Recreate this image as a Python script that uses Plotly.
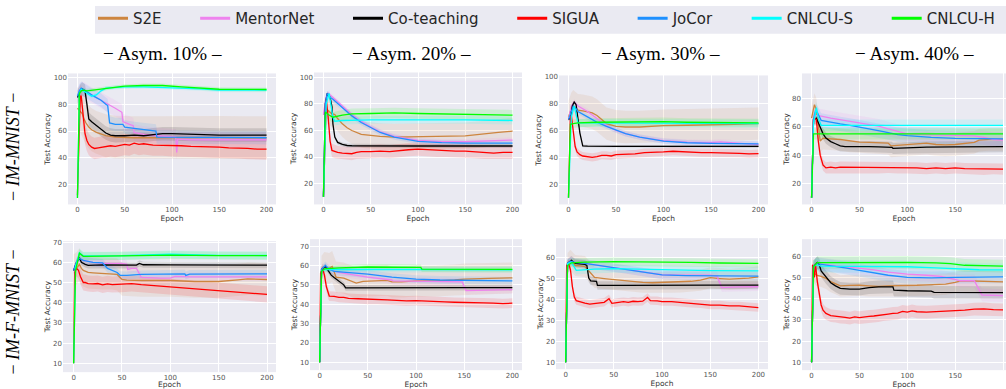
import plotly.graph_objects as go

W, H = 1006, 389

METHODS = ["S2E", "MentorNet", "Co-teaching", "SIGUA", "JoCor", "CNLCU-S", "CNLCU-H"]
COLORS = ["#CD853F", "#EE82EE", "#000000", "#FF0000", "#1E90FF", "#00FFFF", "#00FF00"]
COL_LABELS = ["Asym. 10%", "Asym. 20%", "Asym. 30%", "Asym. 40%"]
ROW_LABELS = ["IM-MNIST", "IM-F-MNIST"]
X_TICKS = [0, 50, 100, 150, 200]

# ---------------- IM-MNIST, Asym. 10% ----------------
m10_s2e = [(0,77),(3,75),(5,73),(7,69),(9,66),(12,63),(15,61),(20,59),(25,57.5),(30,56.5),(40,55.5),(50,55),(60,55),(80,55),(100,55.2),(120,55),(150,55.2),(180,55),(200,55)]
m10_mentornet = [(0,86),(3,90),(5,91),(8,90),(12,88),(20,85),(30,81),(40,77),(47,74),(48,67),(55,65),(59,64),(60,59),(70,57.5),(85,56.5),(100,56),(104,55.5),(105,44),(106,54),(120,53.5),(150,53.5),(200,53.5)]
m10_coteaching = [(0,85),(3,90),(5,91.5),(8,90),(10,80),(12,69),(15,67),(20,64),(25,61),(30,58.5),(35,57),(40,56.5),(50,56.5),(60,57),(70,56.5),(80,57.5),(90,58),(100,58),(120,57.5),(150,57),(200,57)]
m10_sigua = [(0,12),(2,70),(3,86),(4,86),(6,70),(8,58),(10,53),(12,50),(15,48),(18,47),(22,47.5),(26,48),(30,48),(35,49),(40,48.5),(45,49.5),(50,50),(55,49.5),(60,51),(65,50),(70,50.5),(80,49.5),(90,49.5),(100,49),(110,49),(120,48.5),(130,48.5),(140,48),(150,48),(160,47.5),(170,47.5),(180,47),(190,46.5),(200,46.5)]
m10_jocor = [(0,86),(2,90),(4,92),(6,91),(10,89),(15,87),(20,85),(25,83),(30,80),(32,79),(34,66),(40,65),(48,65),(50,63),(60,62),(70,61),(80,60.5),(83,60),(84,55.5),(90,55.5),(100,55.5),(120,55),(150,55),(200,55)]
m10_cnlcu_s = [(0,10),(2,88),(4,91),(6,90),(10,88),(15,86),(20,87),(25,90),(30,92),(40,92.5),(50,93),(70,93),(100,92.5),(130,91.5),(150,90.5),(200,90.5)]
m10_cnlcu_h = [(0,10),(2,88),(4,90),(6,90.5),(10,90),(20,91),(30,92),(40,93),(50,93.5),(70,94),(90,94),(110,93),(130,92),(150,91.2),(200,91)]
m10_spread = [16, 6, 5, 8, 5, 1.5, 1.5]

# ---------------- IM-MNIST, Asym. 20% ----------------
m20_s2e = [(0,72),(3,74),(5,75),(8,73),(12,72),(15,69),(20,65),(25,62),(30,60),(40,57),(50,56),(60,55.5),(75,55),(100,55.5),(125,55.5),(150,56),(165,57),(175,58),(185,58.5),(200,59.5)]
m20_mentornet = [(0,72),(3,86),(5,88),(8,86),(10,85),(20,78),(30,72),(40,67),(50,62.5),(60,59),(75,55.5),(100,52.5),(125,51.5),(150,51.5),(170,52),(185,52.5),(200,52.8)]
m20_coteaching = [(0,10),(2,80),(4,88),(7,85),(9,78),(10,65),(12,55),(15,51),(20,49.5),(25,48.7),(30,48.5),(50,48.3),(100,48.3),(200,48.3)]
m20_sigua = [(0,10),(2,72),(3,83),(5,70),(7,52),(9,45),(12,44),(15,43.5),(20,43),(25,43),(30,42.5),(35,43.5),(40,44),(50,44),(60,44.5),(70,44),(80,45),(90,45.5),(100,46),(110,45.5),(120,45),(130,45),(140,44.5),(150,44.5),(160,44),(170,43.5),(180,43),(190,43.5),(200,43.5)]
m20_jocor = [(0,10),(2,80),(4,88),(7,85),(10,83.5),(20,77),(30,71),(40,66),(50,62),(60,58.5),(75,55),(100,51.8),(125,50.8),(150,50.5),(200,50.5)]
m20_cnlcu_s = [(0,10),(3,80),(6,88),(8,80),(10,70),(12,67),(20,67.5),(50,68),(100,68.2),(150,68),(200,67.5)]
m20_cnlcu_h = [(0,10),(2,74),(5,72),(8,70.5),(10,70),(20,71.5),(30,72.5),(50,72.8),(75,73.2),(100,72.8),(150,72),(200,71.5)]
m20_spread = [10, 2, 1.5, 5, 2, 3, 4]

# ---------------- IM-MNIST, Asym. 30% ----------------
m30_s2e = [(0,70),(3,76),(5,78),(8,76),(10,75),(15,74.5),(20,74),(25,73),(30,71),(35,68),(40,65),(50,63),(60,62.5),(75,62.5),(100,63.5),(125,63.8),(150,64),(175,64.5),(200,65)]
m30_mentornet = [(0,68),(3,78),(6,81),(10,78),(20,74),(30,68.5),(40,63.5),(50,60),(60,57.5),(75,55),(100,52.3),(125,51.2),(150,51),(160,51.5),(170,51),(185,50.5),(200,49.5)]
m30_coteaching = [(0,68),(2,69),(4,78),(6,81),(8,79),(10,68),(12,58),(15,48.5),(20,48.3),(50,48.2),(100,48.2),(200,48.2)]
m30_sigua = [(0,10),(2,70),(3,71),(5,60),(7,48),(9,44),(12,42),(15,41),(20,40.5),(25,40),(30,40.5),(35,41.5),(40,41.5),(45,41),(50,42),(60,42),(70,42.5),(80,43.5),(90,43.5),(100,44),(110,44.5),(120,44),(130,43.8),(140,43.5),(150,43.5),(160,43.5),(170,43),(180,43),(190,42.5),(200,42.8)]
m30_jocor = [(0,68),(3,74),(5,78),(8,76),(10,74),(20,70),(30,66),(40,63),(50,60),(60,57.5),(75,55),(100,52),(125,50.8),(150,50.3),(200,50)]
m30_cnlcu_s = [(0,10),(3,70),(6,78),(8,72),(10,65.5),(20,65.5),(50,65.5),(100,65.5),(150,65.2),(200,65)]
m30_cnlcu_h = [(0,10),(2,64.5),(5,65),(10,65.5),(30,66),(50,66.2),(75,66.5),(100,66.5),(125,66),(150,65.8),(200,65.6)]
m30_spread = [12, 2, 1, 3, 2, 3, 3]

# ---------------- IM-MNIST, Asym. 40% ----------------
m40_s2e = [(0,66),(2,73),(3,75.5),(5,72),(7,62),(9,50),(12,52),(15,52),(20,51.5),(30,51),(40,50),(50,49.2),(60,49),(70,48.8),(80,48.5),(83,46.5),(90,46.8),(100,47.5),(110,48),(120,48.5),(130,47.5),(140,47.2),(150,47.5),(160,48),(170,49),(175,50.5),(185,51),(200,51)]
m40_mentornet = [(0,10),(2,65),(3,68),(6,68),(10,67.5),(20,66),(30,65),(45,63.5),(60,62),(70,60.5),(80,58.5),(90,56.5),(100,55),(125,54.2),(150,54),(170,53.5),(180,52.5),(190,51),(200,50.5)]
m40_coteaching = [(0,10),(2,65),(5,66),(7,63),(10,58),(12,55),(15,52),(20,49.5),(25,48),(30,46.5),(35,46),(50,46.2),(60,46),(70,45.8),(84,45.5),(85,44.8),(100,45.2),(120,45.6),(150,45.8),(200,46)]
m40_sigua = [(0,10),(2,65),(3,66),(5,65),(7,50),(9,40),(12,33),(15,31),(20,31.5),(25,31),(30,31.5),(40,31.5),(50,31),(60,31),(70,31),(80,31.5),(90,31),(100,31),(110,31),(120,30.5),(130,31),(140,30.5),(150,31),(160,30.5),(170,30.5),(180,30),(190,30.5),(200,30.2)]
m40_jocor = [(0,10),(2,65),(4,71),(6,70),(10,64.5),(20,63),(30,62),(40,61),(50,60),(60,58.5),(75,56.5),(90,54.5),(100,53.8),(125,52.5),(150,51.8),(200,51.5)]
m40_cnlcu_s = [(0,10),(2,62),(5,73.5),(7,66),(10,61),(50,61),(100,61),(150,61),(200,61)]
m40_cnlcu_h = [(0,10),(2,55),(5,55),(50,55),(100,55),(150,55),(200,55)]
m40_spread = [8, 5, 4, 4, 5, 4, 4]

# ---------------- IM-F-MNIST, Asym. 10% ----------------
f10_s2e = [(0,56),(3,57),(6,59),(8,57),(10,56),(15,55),(20,54.8),(30,54.5),(40,54.5),(45,54),(50,51.5),(55,51.2),(70,51),(100,51),(125,50.5),(150,50.5),(170,51.3),(180,51.8),(200,51.5)]
f10_mentornet = [(0,56),(3,60),(6,62),(10,61),(20,60),(30,59.5),(50,59.5),(55,59),(56,56.5),(60,57),(65,57),(67,55),(70,52.5),(90,52.2),(100,52.2),(105,53),(120,52.8),(150,52.8),(200,52.8)]
f10_coteaching = [(0,56),(3,60),(6,62.3),(8,60),(12,59),(15,58.5),(30,58.7),(50,58.5),(65,58.6),(68,59.5),(72,58.8),(100,58.7),(150,58.6),(200,58.6)]
f10_sigua = [(0,10),(1,55),(3,57),(5,56),(7,53),(8,52),(10,50),(12,50),(15,49.5),(20,49.3),(25,49.5),(30,48.8),(35,49.3),(40,49),(50,49.2),(60,49.5),(70,49),(80,48.6),(90,48.3),(100,47.8),(110,47.5),(120,47),(130,46.6),(140,46.2),(150,45.8),(160,45.4),(170,45),(180,44.8),(190,44.5),(200,44.1)]
f10_jocor = [(0,56),(3,60),(6,62),(10,61),(20,60),(30,59.7),(35,57),(40,56),(45,55),(48,53.6),(55,53.5),(70,54),(100,54.3),(115,54.3),(116,53.5),(120,54.2),(200,54.3)]
f10_cnlcu_s = [(0,10),(2,58),(6,64.8),(10,63.2),(50,63.3),(100,64),(150,63.5),(200,63.4)]
f10_cnlcu_h = [(0,10),(2,56),(6,64.5),(10,63),(50,63.2),(100,63.6),(150,63.3),(200,63.3)]
f10_spread = [8, 2, 1.5, 4, 2, 2, 2]

# ---------------- IM-F-MNIST, Asym. 20% ----------------
f20_s2e = [(0,10),(2,57),(5,59),(10,58.5),(13,59.5),(15,57),(17,54),(25,53.5),(30,52.5),(35,51.3),(38,50.9),(45,51.8),(55,52),(70,52.3),(75,51.5),(85,51.5),(100,52),(120,52),(140,52.5),(150,53),(175,53.3),(200,53.6)]
f20_mentornet = [(0,10),(2,57),(6,59),(10,58),(20,56.5),(30,55.5),(50,54),(75,52.5),(76,52),(100,51.8),(130,51.5),(148,51.5),(150,49),(152,47),(175,47.3),(200,47.5)]
f20_coteaching = [(0,10),(2,58),(6,59.5),(8,58),(12,55),(15,53.8),(20,52),(25,50),(27,48.4),(50,48.5),(100,48.6),(150,48.6),(200,48.6)]
f20_sigua = [(0,10),(1,56),(3,58.5),(5,55),(7,49),(9,45),(10,44.2),(15,44),(20,43.5),(25,43.5),(30,43),(40,42.8),(50,42.5),(60,42.5),(70,42.2),(80,42),(90,41.7),(100,41.8),(110,41.5),(120,41.3),(130,41.2),(140,41),(150,41),(160,40.8),(170,40.7),(180,40.5),(190,40.3),(200,40.5)]
f20_jocor = [(0,10),(2,58),(6,60),(10,58),(15,57),(30,56.5),(50,55.5),(75,54),(100,53),(125,52.5),(150,52.3),(200,52)]
f20_cnlcu_s = [(0,10),(2,57),(5,58),(10,58),(50,58),(100,58),(150,57.8),(200,57.8)]
f20_cnlcu_h = [(0,10),(2,57),(5,58.2),(20,58.8),(50,59.2),(80,59.3),(105,59),(106,58.1),(150,58),(200,58)]
f20_spread = [8, 2, 1.5, 2.5, 2, 1.5, 1.5]

# ---------------- IM-F-MNIST, Asym. 30% ----------------
f30_s2e = [(0,10),(2,57),(5,58.5),(8,57),(10,56),(15,55.8),(20,55.5),(23,54),(25,53),(30,50.3),(40,49.8),(50,49.3),(60,49),(70,48.5),(80,48),(90,47.8),(100,47.9),(110,48),(120,48.2),(130,48.5),(140,49),(150,50.2),(160,49.8),(170,49.5),(180,49.8),(190,50),(200,50.6)]
f30_mentornet = [(0,10),(2,57),(5,58.5),(10,57.5),(20,57),(35,56),(50,55),(65,54),(80,53),(100,51.6),(120,51.4),(150,51.4),(157,51),(162,45.5),(180,45.8),(200,45.9)]
f30_coteaching = [(0,10),(2,57),(6,58.5),(10,57),(20,56.5),(22,56),(24,50),(26,48.7),(32,48.5),(33,46.5),(60,46.5),(100,46.7),(150,46.7),(200,46.7)]
f30_sigua = [(0,10),(1,56),(3,57),(5,54),(7,46),(9,41),(11,39.3),(15,38.7),(20,38.1),(25,37.6),(30,37.8),(35,38.3),(40,38.5),(45,40.2),(48,38),(55,38.5),(60,38.8),(65,38.5),(70,39),(75,38.8),(80,39),(85,40.8),(88,39.3),(95,39.2),(100,38.8),(110,38.8),(120,38.4),(130,38),(140,37.8),(150,37.2),(160,37.2),(170,36.8),(180,36.8),(190,36.3),(200,36)]
f30_jocor = [(0,10),(2,57),(5,58),(10,57.5),(20,57),(35,56),(50,55),(65,54),(80,53),(100,51.5),(125,51.2),(150,51),(200,50.9)]
f30_cnlcu_s = [(0,10),(2,57),(6,57.5),(9,55),(11,53.7),(30,54.3),(50,54.5),(75,54.3),(100,54),(150,53.6),(200,53.4)]
f30_cnlcu_h = [(0,10),(2,56),(6,57.3),(20,57.6),(50,57.8),(100,57.8),(130,57.5),(160,57.2),(200,57)]
f30_spread = [5, 2, 2, 2, 2, 2, 2]

# ---------------- IM-F-MNIST, Asym. 40% ----------------
f40_s2e = [(0,10),(2,54),(3,52),(5,51),(10,50.5),(15,49.5),(20,48),(25,47),(30,46),(40,46.2),(50,46.3),(60,46),(70,45.7),(80,46),(90,46),(100,46.2),(110,46.3),(120,46.5),(130,46.5),(140,46.8),(150,47.6),(155,48.2),(160,48.4),(170,48.3),(180,48.2),(190,48),(200,47.9)]
f40_mentornet = [(0,10),(2,55),(6,56.5),(20,55.8),(35,55),(50,54.5),(65,53.5),(80,52.5),(100,51.5),(120,51),(135,50.5),(150,49),(155,48.4),(170,48.4),(174,45),(178,41.7),(200,41.4)]
f40_coteaching = [(0,10),(2,55),(6,57),(8,56),(10,53),(15,50),(20,47.5),(25,46),(30,44.8),(40,44.5),(50,44.5),(60,45.2),(70,45.5),(85,45.5),(86,44),(100,43.7),(125,43.5),(128,42.9),(150,42.8),(200,42.8)]
f40_sigua = [(0,10),(1,56),(3,50),(4,56.4),(6,48),(8,42),(10,37),(12,34.5),(15,33),(20,32),(25,31.8),(30,31.3),(35,31.2),(40,30.8),(45,31.4),(50,31),(55,31.4),(60,31.6),(65,31.8),(70,32),(75,32.4),(80,32.7),(85,33),(90,33.2),(95,34),(100,33.6),(105,34.2),(110,33.8),(120,33.6),(130,33.8),(140,34.2),(150,34.4),(160,34.6),(170,35),(180,35.2),(190,34.8),(200,34.7)]
f40_jocor = [(0,10),(2,55),(5,56.5),(10,56.2),(20,55.5),(35,54.5),(50,53.3),(65,52),(80,51),(100,50),(125,49.8),(150,50),(175,50.1),(200,50.2)]
f40_cnlcu_s = [(0,10),(2,55),(5,56),(10,55.3),(50,55.2),(100,55),(130,54.5),(150,54),(175,53.6),(200,53.5)]
f40_cnlcu_h = [(0,10),(2,55),(6,56.9),(30,57),(60,57.2),(100,57.1),(130,56.8),(145,56.5),(160,55.7),(180,55.4),(200,55.3)]
f40_spread = [5, 3, 3, 3, 3, 3, 3]

PANEL_SERIES = [
    [m10_s2e, m10_mentornet, m10_coteaching, m10_sigua, m10_jocor, m10_cnlcu_s, m10_cnlcu_h],
    [m20_s2e, m20_mentornet, m20_coteaching, m20_sigua, m20_jocor, m20_cnlcu_s, m20_cnlcu_h],
    [m30_s2e, m30_mentornet, m30_coteaching, m30_sigua, m30_jocor, m30_cnlcu_s, m30_cnlcu_h],
    [m40_s2e, m40_mentornet, m40_coteaching, m40_sigua, m40_jocor, m40_cnlcu_s, m40_cnlcu_h],
    [f10_s2e, f10_mentornet, f10_coteaching, f10_sigua, f10_jocor, f10_cnlcu_s, f10_cnlcu_h],
    [f20_s2e, f20_mentornet, f20_coteaching, f20_sigua, f20_jocor, f20_cnlcu_s, f20_cnlcu_h],
    [f30_s2e, f30_mentornet, f30_coteaching, f30_sigua, f30_jocor, f30_cnlcu_s, f30_cnlcu_h],
    [f40_s2e, f40_mentornet, f40_coteaching, f40_sigua, f40_jocor, f40_cnlcu_s, f40_cnlcu_h],
]
PANEL_SPREAD = [m10_spread, m20_spread, m30_spread, m40_spread,
                f10_spread, f20_spread, f30_spread, f40_spread]
Y_TICKS = [[20, 40, 60, 80, 100]] * 3 + [[20, 40, 60, 80]] + \
          [[10, 20, 30, 40, 50, 60, 70]] * 2 + [[10, 20, 30, 40, 50, 60]] * 2

# ---------------- layout geometry (pixels) ----------------
BOXES = [  # left, right, top, bottom
    (68, 276, 71, 203), (314, 522, 70, 203), (559, 768, 73, 203), (802, 1006, 71, 203),
    (63, 276, 240, 372), (310, 522, 238, 370), (556, 768, 237, 369), (802, 1006, 238, 370),
]
Y_RANGES = [(5.2, 103), (4.3, 103.7), (5.1, 100.7), (5.3, 97.5),
            (5.6, 70.5), (5.9, 73.6), (6.7, 69), (6.3, 68)]
X_RANGES = [(-10, 210), (-10, 210), (-10, 210), (-10, 203.1),
            (-11, 209.3), (-10, 210), (-10, 210), (-10, 203.1)]


def fx(px):
    return px / W


def fy(py):
    return 1 - py / H


def rgba(hexc, a):
    h = hexc.lstrip("#")
    return "rgba(%d,%d,%d,%s)" % (int(h[0:2], 16), int(h[2:4], 16), int(h[4:6], 16), a)


fig = go.Figure()
BG = "#EAEAF2"
TICK_FONT = dict(family="DejaVu Sans", size=7, color="#555555")
TITLE_FONT = dict(family="DejaVu Sans", size=7.5, color="#333333")

for i, (series_list, spreads) in enumerate(zip(PANEL_SERIES, PANEL_SPREAD)):
    sfx = "" if i == 0 else str(i + 1)
    xa, ya = "x" + sfx, "y" + sfx
    for series, color, sp in zip(series_list, COLORS, spreads):
        ep = [p[0] for p in series]
        acc = [p[1] for p in series]
        up = [a + sp for a in acc]
        lo = [a - sp for a in acc]
        fig.add_trace(go.Scatter(x=ep + ep[::-1], y=up + lo[::-1], fill="toself",
                                 fillcolor=rgba(color, 0.12), line=dict(width=0),
                                 mode="lines", hoverinfo="skip", showlegend=False,
                                 xaxis=xa, yaxis=ya))
    for series, color, name in zip(series_list, COLORS, METHODS):
        fig.add_trace(go.Scatter(x=[p[0] for p in series], y=[p[1] for p in series],
                                 mode="lines", line=dict(color=color, width=1.3),
                                 name=name, showlegend=False, xaxis=xa, yaxis=ya))
    l, r, t, b = BOXES[i]
    fig.layout["xaxis" + sfx] = dict(
        domain=[fx(l), min(1.0, fx(r))], range=list(X_RANGES[i]), anchor=ya,
        tickvals=X_TICKS, showgrid=True, gridcolor="white", gridwidth=1,
        zeroline=False, showline=False, ticks="", tickfont=TICK_FONT,
        title=dict(text="Epoch", font=TITLE_FONT, standoff=0))
    fig.layout["yaxis" + sfx] = dict(
        domain=[fy(b), fy(t)], range=list(Y_RANGES[i]), anchor=xa,
        tickvals=Y_TICKS[i], showgrid=True, gridcolor="white", gridwidth=1,
        zeroline=False, showline=False, ticks="", tickfont=TICK_FONT,
        title=dict(text="Test Accuracy", font=TITLE_FONT, standoff=1))

# legend entries (thicker sample lines, as in the reference)
PAD = "\u00a0" * 6
for k, (name, color) in enumerate(zip(METHODS, COLORS)):
    fig.add_trace(go.Scatter(x=[None], y=[None], mode="lines",
                             line=dict(color=color, width=3),
                             name=name + (PAD if k < len(METHODS) - 1 else ""),
                             showlegend=True, hoverinfo="skip"))

annotations = []
COL_CENTERS = [162, 411, 660, 914]
for c, lab in zip(COL_CENTERS, COL_LABELS):
    annotations.append(dict(text="\u2212 " + lab + " \u2013", x=fx(c), y=fy(51),
                            xref="paper", yref="paper", showarrow=False,
                            xanchor="center", yanchor="middle",
                            font=dict(family="Liberation Serif", size=19, color="black")))
ROW_CENTERS = [145, 312]
for c, lab in zip(ROW_CENTERS, ROW_LABELS):
    annotations.append(dict(text="\u2212 <i>" + lab + "</i> \u2212", x=fx(13), y=fy(c),
                            xref="paper", yref="paper", showarrow=False, textangle=-90,
                            xanchor="center", yanchor="middle",
                            font=dict(family="Liberation Serif", size=18, color="black")))

shapes = [dict(type="rect", xref="paper", yref="paper", x0=fx(95), x1=1.02,
               y0=fy(31), y1=fy(3), fillcolor=BG, line=dict(width=0), layer="below")]

fig.update_layout(
    width=W, height=H, margin=dict(l=0, r=0, t=0, b=0),
    paper_bgcolor="white", plot_bgcolor=BG,
    annotations=annotations, shapes=shapes,
    legend=dict(orientation="h", x=fx(93), y=fy(-1), xanchor="left", yanchor="top",
                bgcolor="rgba(0,0,0,0)", borderwidth=0,
                font=dict(family="DejaVu Sans", size=15, color="#262626"),
                itemclick=False, itemdoubleclick=False),
)

# remove the browser's default 8px page margin so the figure fills the window exactly
fig.write_html("out.html", config={"displayModeBar": False},
               post_script="document.body.style.margin='0px';")
